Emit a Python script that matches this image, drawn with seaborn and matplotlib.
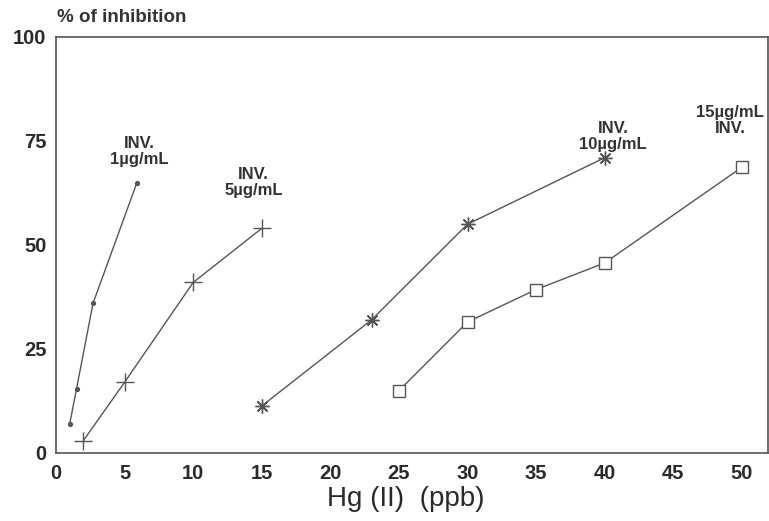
import matplotlib
matplotlib.use("Agg")
import matplotlib.pyplot as plt
import seaborn as sns
import pandas as pd

# Data
inv1_x = [1.0, 1.5, 2.7, 5.9]
inv1_y = [7.0, 15.5, 36.0, 65.0]

inv5_x = [2, 5, 10, 15]
inv5_y = [3.0, 17.0, 41.0, 54.0]

inv10_x = [15, 23, 30, 40]
inv10_y = [11.3, 32.0, 55.0, 71.0]

inv15_x = [25, 30, 35, 40, 50]
inv15_y = [15.0, 31.5, 39.3, 45.7, 68.7]

x_ticks = [0, 5, 10, 15, 20, 25, 30, 35, 40, 45, 50]
y_ticks = [0, 25, 50, 75, 100]

labels = ["INV.\n1µg/mL", "INV.\n5µg/mL", "INV.\n10µg/mL", "15µg/mL\nINV."]

sns.set_theme(style="white")
plt.rcParams['font.family'] = ['Liberation Sans', 'DejaVu Sans']

fig = plt.figure(figsize=(7.69, 5.21), dpi=100)
ax = fig.add_axes([56/769, 1-453/521, (768-56)/769, (453-37)/521])

line_col = "#555555"
series = [
    (inv1_x, inv1_y, dict(marker="o", markersize=3, markerfacecolor=line_col, markeredgecolor=line_col)),
    (inv5_x, inv5_y, dict(marker="+", markersize=13, markeredgewidth=1.0, markeredgecolor=line_col)),
    (inv10_x, inv10_y, dict(marker=(8, 2, 0), markersize=10, markeredgewidth=1.0, markeredgecolor=line_col)),
    (inv15_x, inv15_y, dict(marker="s", markersize=8.5, markerfacecolor="white", markeredgewidth=1.0, markeredgecolor=line_col)),
]
for xs, ys, mk in series:
    df = pd.DataFrame({"x": xs, "y": ys})
    sns.lineplot(data=df, x="x", y="y", ax=ax, color=line_col, linewidth=1.0,
                 estimator=None, sort=False, **mk)

ax.set_xlim(0, 51.9)
ax.set_ylim(0, 100)
ax.set_xticks(x_ticks)
ax.set_yticks(y_ticks)
ax.set_xticklabels([str(t) for t in x_ticks])
ax.set_yticklabels([str(t) for t in y_ticks])
ax.tick_params(axis="both", direction="in", length=5, width=1, color="#555555",
               labelsize=14.5, labelcolor="#2a2a2a")
ax.tick_params(axis="x", pad=8)
ax.tick_params(axis="y", pad=7)
for lab in ax.get_xticklabels() + ax.get_yticklabels():
    lab.set_fontweight("bold")
for sp in ax.spines.values():
    sp.set_visible(True)
    sp.set_color("#555555")
    sp.set_linewidth(1.2)

ax.set_xlabel("")
ax.set_ylabel("")
fig.text(406/769, 1-499/521, "Hg (II)  (ppb)", ha="center", va="center", fontsize=20,
         color="#2a2a2a")

# Series annotations
ann_pos = [(6.1, 72.5, "center"), (14.4, 65.1, "center"), (40.6, 76.0, "center"),
           (51.6, 80.0, "right")]
for (tx, ty, ha), lab in zip(ann_pos, labels):
    ax.text(tx, ty, lab, ha=ha, va="center", multialignment="center", fontsize=12,
            fontweight="bold", color="#333333", linespacing=1.1)

fig.text(57/769, 1-18/521, "% of inhibition", ha="left", va="center", fontsize=13.5,
         fontweight="bold", color="#333333")

fig.savefig("out.png", dpi=100)
